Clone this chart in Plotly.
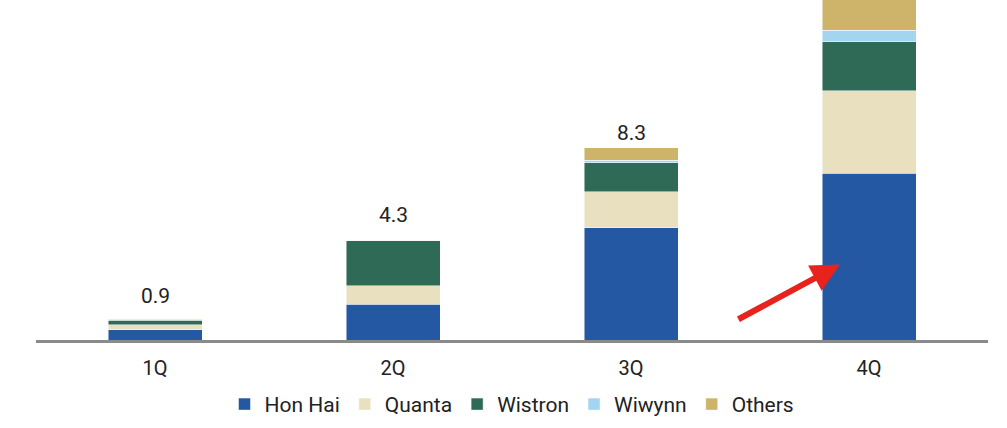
import plotly.graph_objects as go

quarters = ["1Q", "2Q", "3Q", "4Q"]
hon_hai = [0.45, 1.55, 4.85, 7.2]
quanta = [0.2, 0.8, 1.55, 3.55]
wistron = [0.2, 1.95, 1.25, 2.1]
wiwynn = [0.02, 0.0, 0.1, 0.5]
others = [0.03, 0.0, 0.55, 1.4]
total_labels = ["0.9", "4.3", "8.3", ""]

series = [
    ("Hon Hai", hon_hai, "#2458a2"),
    ("Quanta", quanta, "#e9e0c0"),
    ("Wistron", wistron, "#2e6a55"),
    ("Wiwynn", wiwynn, "#a3d5f0"),
    ("Others", others, "#cdb46a"),
]

FONT = "Roboto, Arial"
label_shift = [23, 25, 15, 0]

fig = go.Figure()
for name, vals, col in series:
    fig.add_trace(go.Bar(
        x=quarters, y=vals, name=name,
        marker=dict(color=col, line=dict(color="rgba(255,255,255,0.8)", width=0.6)),
        width=0.395,
    ))

totals = [sum(v) for v in zip(hon_hai, quanta, wistron, wiwynn, others)]
for q, t, lab, sh in zip(quarters, totals, total_labels, label_shift):
    if lab:
        fig.add_annotation(x=q, y=t, text=lab, showarrow=False, yshift=sh,
                           font=dict(size=21, color="#222", family=FONT))

# red arrow pointing at the 4Q Hon Hai segment
fig.add_annotation(x=2.878, y=3.25, ax=2.445, ay=0.86, xref="x", yref="y",
                   axref="x", ayref="y", text="", showarrow=True,
                   arrowhead=2, arrowsize=0.95, arrowwidth=6, arrowcolor="#e8231d")

fig.update_layout(
    barmode="stack",
    width=1007, height=428,
    margin=dict(l=36, r=19, t=0, b=88, autoexpand=False),
    plot_bgcolor="white", paper_bgcolor="white",
    showlegend=True,
    legend=dict(orientation="h", x=0.5, xanchor="center", yref="container",
                y=0.055, yanchor="middle",
                font=dict(size=21, color="#222", family=FONT), traceorder="normal",
                itemwidth=30),
    xaxis=dict(showline=True, linecolor="#8a8a8a", linewidth=3, ticks="",
               tickfont=dict(size=20, color="#222", family=FONT),
               ticklabelstandoff=8, range=[-0.5, 3.5]),
    yaxis=dict(range=[0, 14.66], visible=False, showgrid=False, zeroline=False),
    bargap=0.6,
)

fig.write_html("out.html", config={"displayModeBar": False},
               post_script="document.body.style.margin='0';")
